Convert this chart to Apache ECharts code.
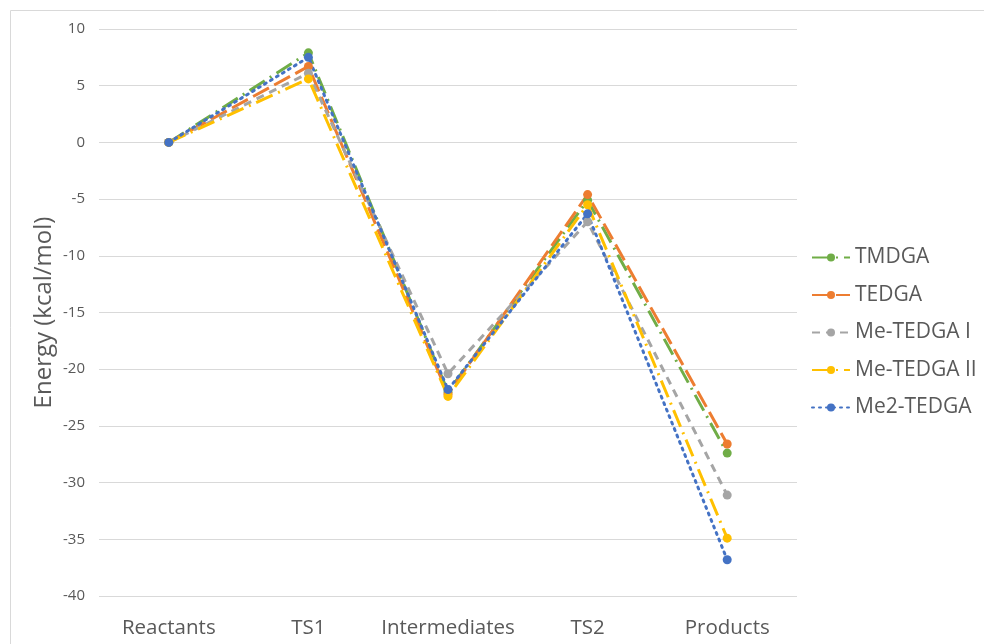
<!DOCTYPE html>
<html><head><meta charset="utf-8">
<script src="https://cdn.jsdelivr.net/npm/echarts@6/dist/echarts.min.js"></script>
<style>html,body{margin:0;padding:0;background:#fff}#c{width:984px;height:644px}</style>
</head><body><div id="c"></div>
<script>
const categories = ['Reactants','TS1','Intermediates','TS2','Products'];
const seriesNames = ['TMDGA','TEDGA','Me-TEDGA I','Me-TEDGA II','Me2-TEDGA'];
const TMDGA = [0, 7.9, -22.0, -5.1, -27.4];
const TEDGA = [0, 6.7, -22.2, -4.6, -26.6];
const MeTEDGA_I = [0, 6.1, -20.4, -7.0, -31.1];
const MeTEDGA_II = [0, 5.6, -22.4, -5.5, -34.9];
const Me2TEDGA = [0, 7.5, -21.8, -6.3, -36.8];
const yMin = -40, yMax = 10, yStep = 5;

const colors = ['#70AD47','#ED7D31','#A5A5A5','#FFC000','#4472C4'];
const dashes = [[18,6,2,6],[18,6],[8,6],[18,6,2,6],[2,5]];
const datas = [TMDGA, TEDGA, MeTEDGA_I, MeTEDGA_II, Me2TEDGA];
const font = '"Open Sans", "Liberation Sans", sans-serif';

const chart = echarts.init(document.getElementById('c'));
chart.setOption({
  animation: false,
  graphic: [{type:'rect', shape:{x:10.5,y:10.5,width:990,height:650}, style:{fill:'none',stroke:'#D9D9D9',lineWidth:1}, silent:true}],
  grid: {left: 99, right: 187, top: 29, bottom: 48},
  legend: {
    orient: 'vertical', left: 806, top: 242, itemWidth: 38, itemHeight: 10, itemGap: 16.5,
    textStyle: {fontFamily: font, fontSize: 21, color: '#595959'},
    data: seriesNames
  },
  xAxis: {
    type: 'category', data: categories, boundaryGap: true,
    axisLine: {show: false}, axisTick: {show: false},
    axisLabel: {fontFamily: font, fontSize: 20.5, color: '#595959', margin: 22, interval: 0}
  },
  yAxis: {
    type: 'value', min: yMin, max: yMax, interval: yStep,
    name: 'Energy (kcal/mol)', nameLocation: 'middle', nameGap: 43, nameRotate: 90,
    nameMoveOverlap: false,
    nameTextStyle: {fontFamily: font, fontSize: 24, color: '#595959'},
    axisLine: {show: false}, axisTick: {show: false},
    axisLabel: {fontFamily: font, fontSize: 15, color: '#595959', margin: 14},
    splitLine: {lineStyle: {color: '#D9D9D9', width: 1}}
  },
  series: seriesNames.map((n, i) => ({
    name: n, type: 'line', data: datas[i], symbol: 'circle', symbolSize: 9,
    itemStyle: {color: colors[i]},
    lineStyle: {color: colors[i], width: 3, type: dashes[i], cap: i === 4 ? 'round' : 'butt'}
  }))
});
</script></body></html>
